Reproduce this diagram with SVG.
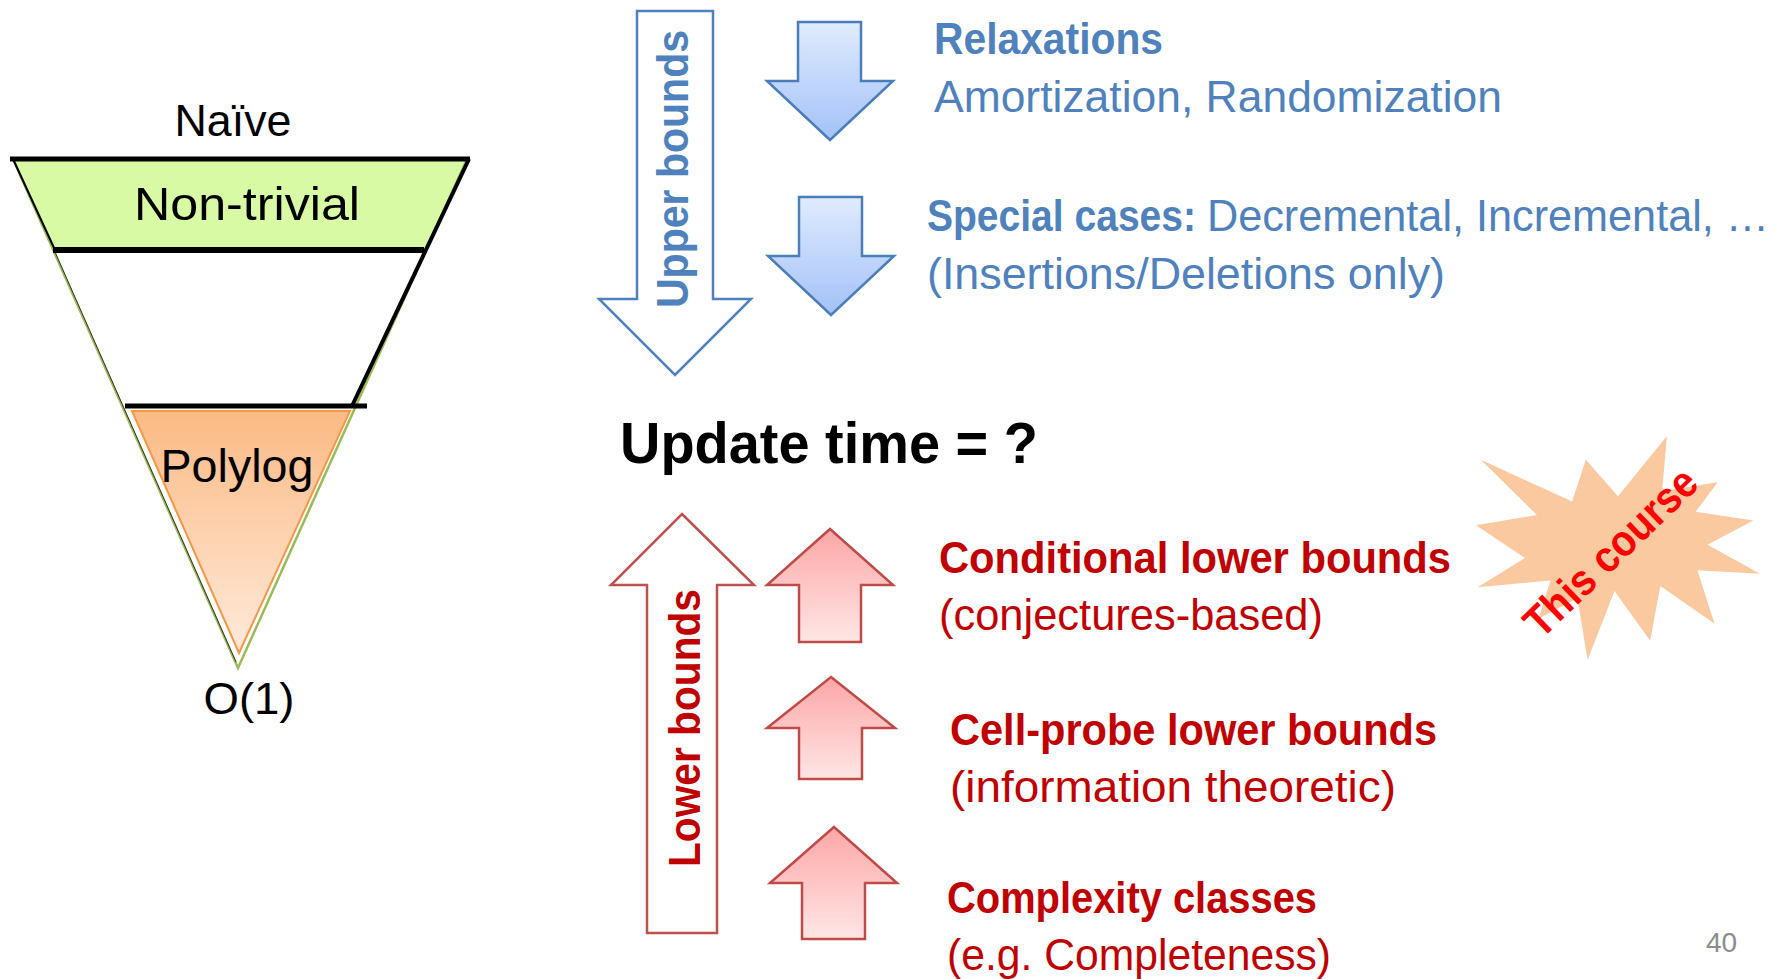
<svg xmlns="http://www.w3.org/2000/svg" width="1787" height="979" viewBox="0 0 1787 979">
  <defs>
    <linearGradient id="gBlue" x1="0" y1="0" x2="0" y2="1">
      <stop offset="0" stop-color="#E0EBFD"/>
      <stop offset="1" stop-color="#A3C1F8"/>
    </linearGradient>
    <linearGradient id="gRed" x1="0" y1="0" x2="0" y2="1">
      <stop offset="0" stop-color="#FDA6A6"/>
      <stop offset="1" stop-color="#FFE6E6"/>
    </linearGradient>
    <linearGradient id="gOrange" x1="0" y1="0" x2="0" y2="1">
      <stop offset="0" stop-color="#FBBA84"/>
      <stop offset="1" stop-color="#FFEADB"/>
    </linearGradient>
  </defs>
  <style>
    text { font-family: "Liberation Sans", Arial, sans-serif; }
    .lbl { font-size: 44px; fill: #000; }
    .blue { fill: #4F81BD; }
    .red { fill: #C00000; }
    .b { font-weight: bold; }
    .reg { font-size: 44px; }
    .bigUp { fill: #fff; stroke: #4F81BD; stroke-width: 2.5; stroke-linejoin: miter; }
    .bigLo { fill: #fff; stroke: #C0504D; stroke-width: 2.5; stroke-linejoin: miter; }
    .arrUp { fill: url(#gBlue); stroke: #4A7EBB; stroke-width: 2.5; }
    .arrLo { fill: url(#gRed); stroke: #BE4B48; stroke-width: 2.5; }
    .blk { stroke: #000; fill: none; }
  </style>

  <rect width="1787" height="979" fill="#fff"/>

  <!-- funnel of complexity levels -->
  <g id="funnel">
    <polygon points="13,159 467,159 426,250 53,250" fill="#D9FAA5"/>
    <polygon points="13,159 467,159 238,668" fill="none" stroke="#9BBB59" stroke-width="2.5"/>
    <line x1="55" y1="252" x2="236" y2="662" stroke="#333" stroke-width="1"/>
    <line x1="13" y1="159" x2="55" y2="250" class="blk" stroke-width="2"/>
    <line x1="469" y1="159" x2="352" y2="406" class="blk" stroke-width="4"/>
    <line x1="10" y1="159" x2="470" y2="159" class="blk" stroke-width="5"/>
    <line x1="53" y1="250" x2="424" y2="250" class="blk" stroke-width="6"/>
    <polygon points="132,411 350,411 239,653" fill="url(#gOrange)" stroke="#F79646" stroke-width="2"/>
    <line x1="125" y1="406" x2="367" y2="406" class="blk" stroke-width="5"/>
  </g>
  <g id="funnel-labels">
    <text class="lbl" x="233" y="136" text-anchor="middle" textLength="117" lengthAdjust="spacingAndGlyphs">Naïve</text>
    <text class="lbl" x="247" y="220" text-anchor="middle" textLength="226" lengthAdjust="spacingAndGlyphs" style="font-size:47px">Non-trivial</text>
    <text class="lbl" x="237" y="482" text-anchor="middle" textLength="153" lengthAdjust="spacingAndGlyphs" style="font-size:47px">Polylog</text>
    <text class="lbl" x="249" y="714" text-anchor="middle" textLength="91" lengthAdjust="spacingAndGlyphs" style="font-size:45px">O(1)</text>
  </g>

  <!-- upper bounds side -->
  <g id="upper-bounds">
    <path class="bigUp" d="M637,11 L713,11 L713,299 L751,299 L675,375 L599,299 L637,299 Z"/>
    <text class="blue b" transform="translate(688,169) rotate(-90)" text-anchor="middle" font-size="44" textLength="278" lengthAdjust="spacingAndGlyphs">Upper bounds</text>
  </g>
  <g id="relaxations">
    <path class="arrUp" d="M798,22 L861,22 L861,81 L893,81 L830,140 L767,81 L798,81 Z"/>
    <text class="blue b" x="934" y="54" font-size="44" textLength="229" lengthAdjust="spacingAndGlyphs">Relaxations</text>
    <text class="blue reg" x="934" y="112" textLength="568" lengthAdjust="spacingAndGlyphs">Amortization, Randomization</text>
  </g>
  <g id="special-cases">
    <path class="arrUp" d="M799,197 L862,197 L862,256 L894,256 L831,315 L768,256 L799,256 Z"/>
    <text class="blue reg" x="927" y="231"><tspan class="b" font-size="44" textLength="269" lengthAdjust="spacingAndGlyphs">Special cases:</tspan><tspan x="1207" textLength="562" lengthAdjust="spacingAndGlyphs">Decremental, Incremental, …</tspan></text>
    <text class="blue reg" x="927" y="289" textLength="518" lengthAdjust="spacingAndGlyphs">(Insertions/Deletions only)</text>
  </g>

  <!-- central question -->
  <g id="question">
    <text class="b" x="620" y="463" font-size="58" fill="#000" textLength="418" lengthAdjust="spacingAndGlyphs">Update time = ?</text>
  </g>

  <!-- lower bounds side -->
  <g id="lower-bounds">
    <path class="bigLo" d="M682,514 L754,585 L717,585 L717,933 L647,933 L647,585 L611,585 Z"/>
    <text class="red b" transform="translate(700,728) rotate(-90)" text-anchor="middle" font-size="44" textLength="278" lengthAdjust="spacingAndGlyphs">Lower bounds</text>
  </g>
  <g id="conditional">
    <path class="arrLo" d="M830,529 L893,585 L861,585 L861,642 L799,642 L799,585 L767,585 Z"/>
    <text class="red b" x="939" y="573" font-size="44" textLength="512" lengthAdjust="spacingAndGlyphs">Conditional lower bounds</text>
    <text class="red reg" x="939" y="630" textLength="384" lengthAdjust="spacingAndGlyphs">(conjectures-based)</text>
  </g>
  <g id="cell-probe">
    <path class="arrLo" d="M831,677 L895,728 L862,728 L862,779 L799,779 L799,728 L767,728 Z"/>
    <text class="red b" x="950" y="745" font-size="44" textLength="487" lengthAdjust="spacingAndGlyphs">Cell-probe lower bounds</text>
    <text class="red reg" x="950" y="802" textLength="446" lengthAdjust="spacingAndGlyphs">(information theoretic)</text>
  </g>
  <g id="complexity">
    <path class="arrLo" d="M834,827 L897,883 L865,883 L865,939 L802,939 L802,883 L770,883 Z"/>
    <text class="red b" x="947" y="913" font-size="44" textLength="370" lengthAdjust="spacingAndGlyphs">Complexity classes</text>
    <text class="red reg" x="947" y="970" textLength="384" lengthAdjust="spacingAndGlyphs">(e.g. Completeness)</text>
  </g>

  <!-- highlight burst -->
  <g id="this-course">
    <path transform="translate(1476,436) scale(0.013148,0.010370)" fill="#FAC9A0"
      d="M10800,5800 L14522,0 L14155,5325 L18380,4457 L16702,7315 L21097,8137 L17607,10475 L21600,13290 L16837,12942 L18145,18095 L14020,14457 L13247,19737 L10532,14935 L8485,21600 L7715,15627 L4762,17617 L5667,13937 L135,14587 L3722,11775 L0,8615 L4627,7617 L370,2295 L7312,6320 L8352,2295 Z"/>
    <text class="b" transform="translate(1621,563) rotate(-44)" text-anchor="middle" font-size="44" fill="#FF0000" textLength="222" lengthAdjust="spacingAndGlyphs">This course</text>
  </g>

  <g id="connectors"></g>

  <text x="1706" y="952" font-size="28" fill="#8C8C8C">40</text>
</svg>
